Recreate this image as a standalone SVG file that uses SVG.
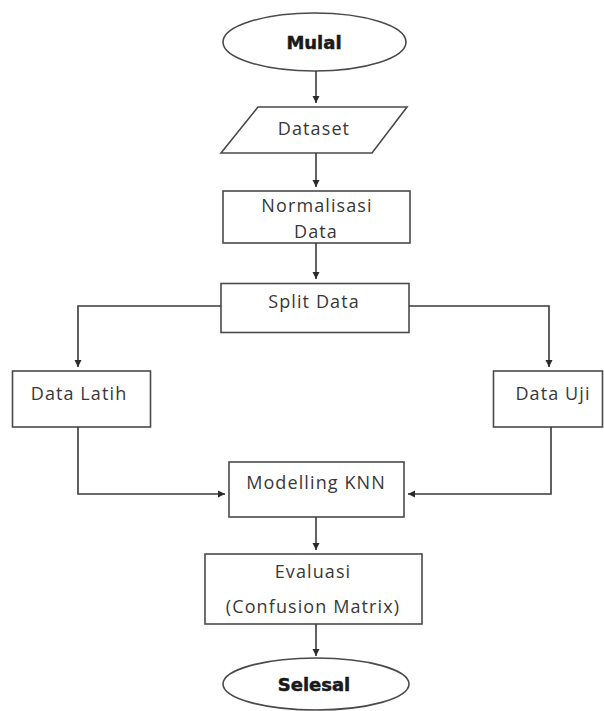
<svg xmlns="http://www.w3.org/2000/svg" width="604" height="711" viewBox="0 0 604 711">
<style>
.shape{fill:#ffffff;stroke:#4a4a4a;stroke-width:1.6}
.lbl{font-family:"Open Sans","Liberation Sans",sans-serif;font-size:18px;letter-spacing:1.1px;fill:#383838;text-anchor:middle}
.term{font-family:"DejaVu Sans","Liberation Sans",sans-serif;font-weight:bold;font-size:18px;fill:#1a1a1a;stroke:#1a1a1a;stroke-width:0.5;text-anchor:middle}
.conn{fill:none;stroke:#3a3a3a;stroke-width:1.6}
</style>
<defs>
<marker id="ah" markerUnits="userSpaceOnUse" markerWidth="8" markerHeight="8" viewBox="0 0 8 8" refX="7" refY="4" orient="auto">
<path d="M0,0.5 L7,4 L0,7.5 Z" fill="#2a2a2a"/>
</marker>
</defs>
<rect width="604" height="711" fill="#ffffff"/>
<g id="mulai">
<ellipse class="shape" cx="314.5" cy="42" rx="91.5" ry="29"/>
<text class="term" x="314" y="49">Mulal</text>
</g>
<g id="dataset">
<polygon class="shape" points="258,107 407,107 372,153 221,153"/>
<text class="lbl" x="314" y="135">Dataset</text>
</g>
<g id="normalisasi">
<rect class="shape" x="223" y="191" width="187" height="52"/>
<text class="lbl" x="317" y="212">Normalisasi</text>
<text class="lbl" x="316" y="238">Data</text>
</g>
<g id="split">
<rect class="shape" x="221" y="283.5" width="188" height="49"/>
<text class="lbl" x="314" y="308">Split Data</text>
</g>
<g id="latih">
<rect class="shape" x="12.5" y="371" width="138" height="56"/>
<text class="lbl" x="79" y="400">Data Latih</text>
</g>
<g id="uji">
<rect class="shape" x="493.5" y="371" width="109" height="56"/>
<text class="lbl" x="553" y="400">Data Uji</text>
</g>
<g id="modelling">
<rect class="shape" x="229" y="462" width="175" height="55"/>
<text class="lbl" x="316" y="489">Modelling KNN</text>
</g>
<g id="evaluasi">
<rect class="shape" x="205" y="554" width="217" height="70"/>
<text class="lbl" x="313" y="578">Evaluasi</text>
<text class="lbl" x="313" y="613">(Confusion Matrix)</text>
</g>
<g id="selesai">
<ellipse class="shape" cx="316" cy="684" rx="93" ry="26"/>
<text class="term" x="314" y="691">Selesal</text>
</g>
<g id="connectors">
<path class="conn" d="M316,71 V103" marker-end="url(#ah)"/>
<path class="conn" d="M316,153 V187" marker-end="url(#ah)"/>
<path class="conn" d="M316,243 V279" marker-end="url(#ah)"/>
<path class="conn" d="M221,306 H78 V367" marker-end="url(#ah)"/>
<path class="conn" d="M409,306 H549 V367" marker-end="url(#ah)"/>
<path class="conn" d="M78,427 V494 H225" marker-end="url(#ah)"/>
<path class="conn" d="M551,427 V494 H408" marker-end="url(#ah)"/>
<path class="conn" d="M316,517 V550" marker-end="url(#ah)"/>
<path class="conn" d="M316,624 V656" marker-end="url(#ah)"/>
</g>
</svg>
